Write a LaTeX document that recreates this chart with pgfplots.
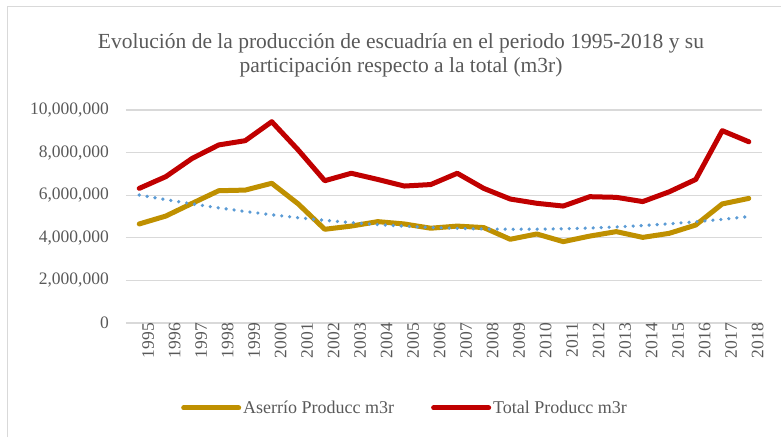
\documentclass[border=0pt]{standalone}
\usepackage{fontspec}
\setmainfont{Liberation Serif}
\usepackage{pgfplots}
\pgfplotsset{compat=1.18}
\definecolor{aserrio}{RGB}{191,144,0}
\definecolor{total}{RGB}{192,0,0}
\definecolor{trend}{RGB}{91,155,213}
\definecolor{txt}{RGB}{89,89,89}

\begin{document}
\begin{tikzpicture}
\begin{axis}[
    at={(0,0)}, anchor=south west,
    scale only axis,
    width=636pt, height=213pt,
    xmin=-0.5, xmax=23.5,
    ymin=0, ymax=10000000,
    xtick={0,...,23},
    xticklabels={1995,1996,1997,1998,1999,2000,2001,2002,2003,2004,2005,2006,2007,2008,2009,2010,2011,2012,2013,2014,2015,2016,2017,2018},
    ytick={0,2000000,4000000,6000000,8000000,10000000},
    scaled y ticks=false,
    /pgf/number format/assume math mode=true,
    yticklabel={\pgfmathprintnumber[fixed,precision=0,1000 sep={,}]{\tick}},
    ticklabel style={font=\fontsize{17.5}{20}\selectfont, text=txt},
    xticklabel style={rotate=90, anchor=east, inner sep=0pt, yshift=-9pt},
    yticklabel style={anchor=east, inner sep=0pt, xshift=-17pt},
    major tick length=0pt,
    axis line style={draw=none},
    ymajorgrids,
    grid style={black!15, line width=1.3pt},
    legend columns=2,
    legend style={at={(0.4387,-0.399)}, anchor=center, draw=none, fill=none,
        font=\fontsize{18}{20}\selectfont, text=txt,
        /tikz/every even column/.append style={column sep=35pt}},
    legend image code/.code={\draw[#1] (0pt,0pt) -- (55pt,0pt);},
    clip=false,
]
\addplot[aserrio, line width=5pt, line join=round, line cap=round] coordinates {
 (0,4650000) (1,5020000) (2,5620000) (3,6210000) (4,6240000) (5,6560000)
 (6,5590000) (7,4400000) (8,4550000) (9,4760000) (10,4650000) (11,4450000)
 (12,4550000) (13,4480000) (14,3930000) (15,4180000) (16,3820000) (17,4080000)
 (18,4290000) (19,4020000) (20,4210000) (21,4600000) (22,5590000) (23,5850000)
};
\addlegendentry{Aserrío Producc m3r}
\addplot[total, line width=5pt, line join=round, line cap=round] coordinates {
 (0,6320000) (1,6870000) (2,7730000) (3,8360000) (4,8560000) (5,9450000)
 (6,8120000) (7,6680000) (8,7030000) (9,6740000) (10,6430000) (11,6500000)
 (12,7030000) (13,6320000) (14,5820000) (15,5620000) (16,5490000) (17,5930000)
 (18,5900000) (19,5700000) (20,6160000) (21,6740000) (22,9030000) (23,8510000)
};
\addlegendentry{Total Producc m3r}
\addplot[trend, line width=3.6pt, line cap=round, dash pattern=on 0pt off 8pt, forget plot] coordinates {
 (0,6010000) (1,5793000) (2,5591000) (3,5405000) (4,5235000) (5,5081000)
 (6,4942000) (7,4820000) (8,4712000) (9,4621000) (10,4546000) (11,4486000)
 (12,4442000) (13,4413000) (14,4401000) (15,4404000) (16,4423000) (17,4457000)
 (18,4508000) (19,4574000) (20,4656000) (21,4753000) (22,4867000) (23,4996000)
};
\end{axis}
\useasboundingbox (-126pt,-114pt) rectangle (655pt,323pt);
\draw[black!15, line width=1pt] (-118pt,-114pt) -- (-118pt,316pt) -- (655pt,316pt);
\node[align=center, text=txt, font=\fontsize{21.5}{24}\selectfont] at (275pt,268pt)
  {Evolución de la producción de escuadría en el periodo 1995-2018 y su\\participación respecto a la total (m3r)};
\end{tikzpicture}
\end{document}
